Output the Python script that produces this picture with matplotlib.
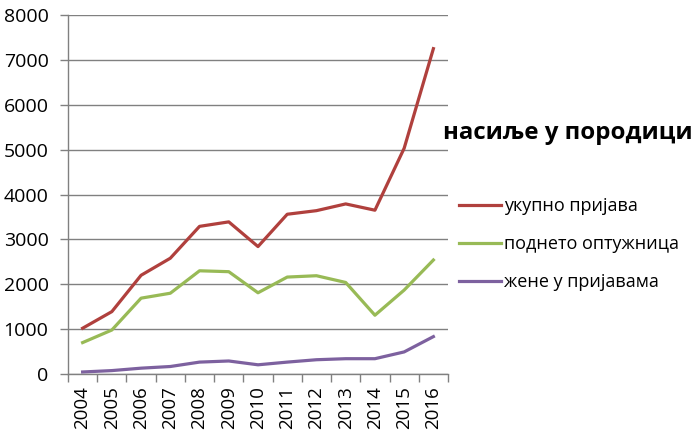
import matplotlib
matplotlib.use("Agg")
import matplotlib.pyplot as plt
import numpy as np

years = ["2004", "2005", "2006", "2007", "2008", "2009", "2010",
         "2011", "2012", "2013", "2014", "2015", "2016"]
ukupno = [1020, 1390, 2200, 2580, 3290, 3390, 2840, 3560, 3640, 3790, 3650, 5030, 7250]
optuznice = [700, 980, 1690, 1800, 2300, 2280, 1810, 2160, 2190, 2040, 1310, 1870, 2540]
zene = [45, 76, 130, 167, 265, 290, 205, 265, 318, 341, 341, 492, 833]
labels = ["укупно пријава", "поднето оптужница", "жене у пријавама"]
title = "насиље у породици"

plt.rcParams['font.family'] = ['Open Sans', 'DejaVu Sans']

fig = plt.figure(figsize=(7, 4.38), dpi=100)
ax = fig.add_axes([68/700, 1-374/438, 380/700, 359/438])

x = np.arange(len(years))
colors = ["#B0403D", "#98BA56", "#7D619F"]
lines = []
for vals, c, lab in zip([ukupno, optuznice, zene], colors, labels):
    l, = ax.plot(x, vals, color=c, lw=2.3, label=lab, solid_joinstyle='round')
    lines.append(l)

ax.set_xlim(-0.5, len(years) - 0.5)
ax.set_ylim(0, 8000)
ax.set_yticks(range(0, 8001, 1000))
ax.set_xticks(x)
ax.set_xticklabels(years, rotation=90, fontsize=13.5)
ax.set_xticks(np.arange(-0.5, len(years), 1), minor=True)
ax.tick_params(axis='x', which='major', length=0, pad=9)
ax.tick_params(axis='x', which='minor', length=6, color='#808080', width=1)
ax.tick_params(axis='y', length=6, color='#808080', width=1, labelsize=14, pad=8)
ax.yaxis.grid(True, color='#808080', lw=1)
ax.set_axisbelow(True)
for s in ['top', 'right']:
    ax.spines[s].set_visible(False)
for s in ['left', 'bottom']:
    ax.spines[s].set_color('#808080')
    ax.spines[s].set_linewidth(1)

fig.text(443/700, 1-133/438, title, fontsize=17.3, fontweight='bold', va='center', ha='left')
fig.legend(handles=lines, loc='upper left', bbox_to_anchor=(452/700, 1-190/438),
           frameon=False, fontsize=13, handlelength=2.3, handletextpad=0.2,
           labelspacing=1.1, borderaxespad=0)

fig.savefig("out.png", dpi=100, facecolor='white')
